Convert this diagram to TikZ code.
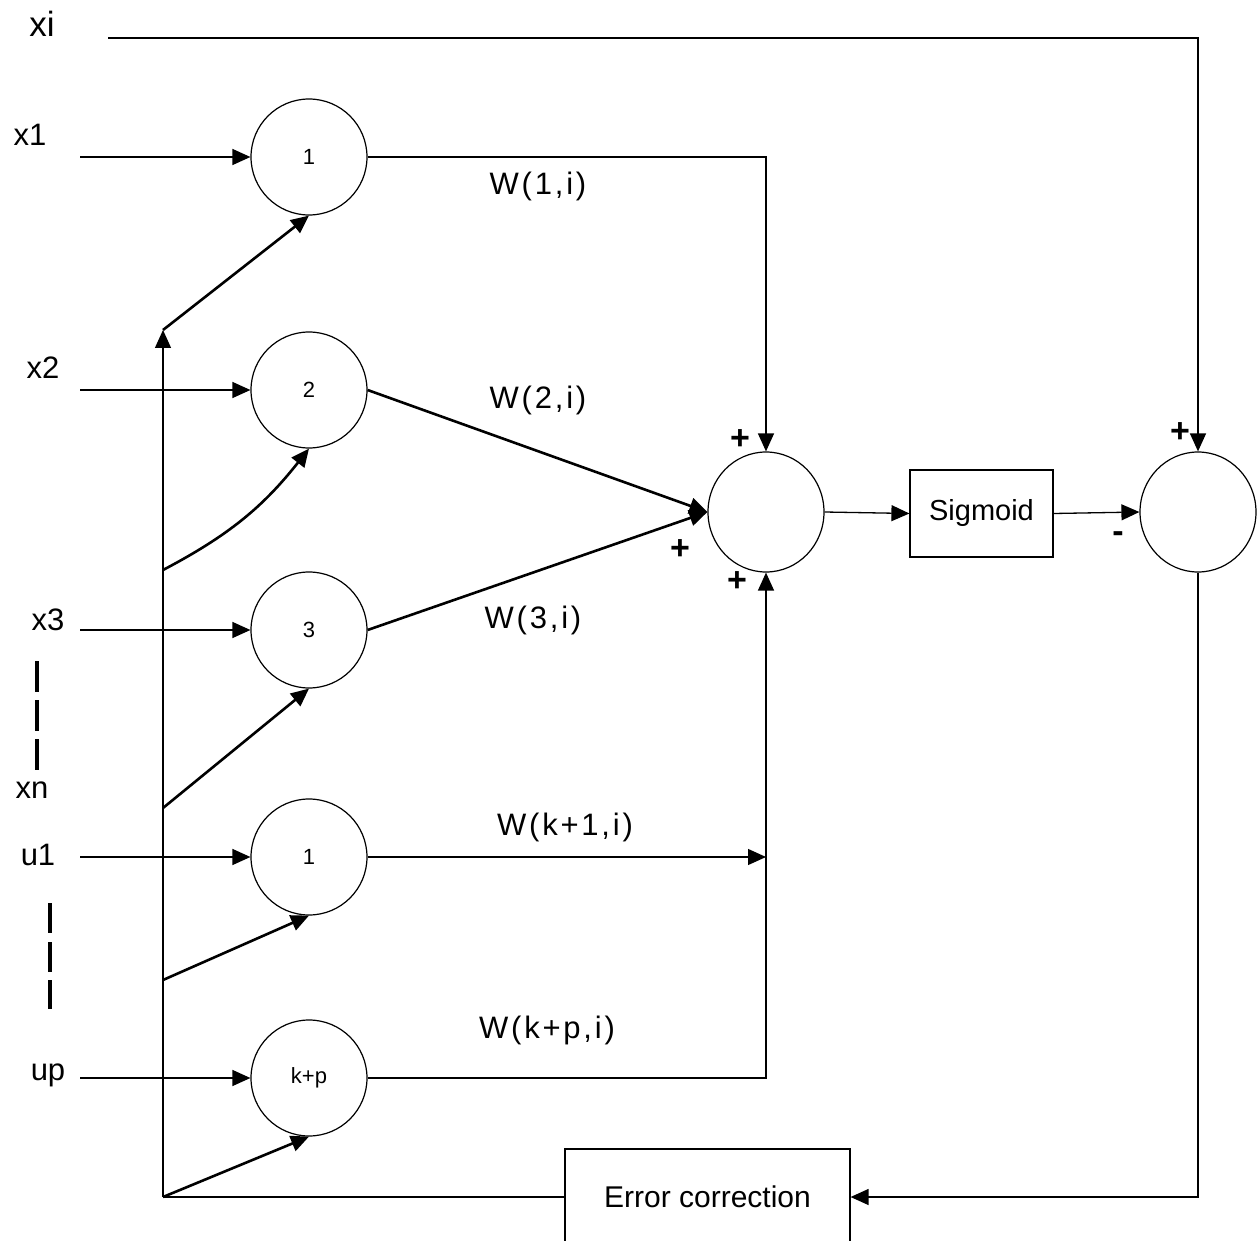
\documentclass[tikz,border=0pt]{standalone}
\usepackage{fontspec}
\setmainfont{Liberation Sans}
\newfontfamily\wfont{Liberation Sans}[LetterSpace=9]
\usetikzlibrary{arrows.meta,shapes.geometric}
\begin{document}
\begin{tikzpicture}[x=1pt,y=-1pt,
 neuron/.style={draw,circle,minimum size=116pt,inner sep=0pt,line width=1.2pt,font=\fontsize{22}{24}\selectfont},
 junction/.style={draw,ellipse,minimum width=116pt,minimum height=120pt,inner sep=0pt,line width=1.2pt},
 blockbox/.style={draw,rectangle,line width=1.2pt,inner sep=0pt},
 inlab/.style={font=\fontsize{31}{34}\selectfont,inner sep=0pt},
 wlab/.style={font=\wfont\fontsize{31}{34}\selectfont,inner sep=0pt},
 sgn/.style={font=\fontsize{34}{36}\selectfont\bfseries,inner sep=0pt},
 wire/.style={line width=1.3pt},
 heavy/.style={line width=2.6pt},
 arr/.style={-{Triangle[length=18pt,width=16pt]}},
 dashbar/.style={line width=4pt},
]
\useasboundingbox (0,0) rectangle (1259,1241);
\clip (0,0) rectangle (1259,1241);

% neurons
\node[neuron] (n1) at (309,157) {1};
\node[neuron] (n2) at (309,390) {2};
\node[neuron] (n3) at (309,630) {3};
\node[neuron] (nu) at (309,857) {1};
\node[neuron] (nk) at (309,1078) {k+p};

% junctions and blocks
\node[junction] (sum) at (766,512) {};
\node[junction] (rc) at (1198,512) {};
\node[blockbox,minimum width=143pt,minimum height=87pt,font=\fontsize{29}{31}\selectfont] (sig) at (981.5,513.5) {Sigmoid};
\node[blockbox,minimum width=285pt,minimum height=96pt,font=\fontsize{30}{32}\selectfont] (err) at (707.5,1197) {Error correction};

% input labels
\node[inlab,font=\fontsize{35}{38}\selectfont] (lxi) at (42,24) {xi};
\node[inlab] (lx1) at (30,135) {x1};
\node[inlab] (lx2) at (43,368) {x2};
\node[inlab] (lx3) at (48,620) {x3};
\node[inlab] (lxn) at (32,790) {xn};
\node[inlab] (lu1) at (38,855) {u1};
\node[inlab] (lup) at (48,1075) {up};

% dashes
\draw[dashbar] (37,661) -- (37,692) (37,700) -- (37,731) (37,739) -- (37,770);
\draw[dashbar] (50,903) -- (50,933) (50,942) -- (50,972) (50,980) -- (50,1009);

% input lines
\coordinate (sxi) at (108,38);
\coordinate (sx1) at (80,157);
\coordinate (sx2) at (80,390);
\coordinate (sx3) at (80,630);
\coordinate (su1) at (80,857);
\coordinate (sup) at (80,1078);
\draw[wire,arr] (sxi) -| (rc.north);
\draw[wire,arr] (sx1) -- (n1.west);
\draw[wire,arr] (sx2) -- (n2.west);
\draw[wire,arr] (sx3) -- (n3.west);
\draw[wire,arr] (su1) -- (nu.west);
\draw[wire,arr] (sup) -- (nk.west);

% bus
\coordinate (b0) at (163,1197);
\coordinate (b1) at (163,330);
\coordinate (b2) at (163,570);
\coordinate (b3) at (163,808);
\coordinate (b4) at (163,980);
\draw[wire,arr] (b0) -- (b1);
\draw[heavy,arr] (b1) -- (n1.south);
\draw[heavy,arr] (b2) to[bend right=12] (n2.south);
\draw[heavy,arr] (b3) -- (n3.south);
\draw[heavy,arr] (b4) -- (nu.south);
\draw[heavy,arr] (b0) -- (nk.south);
\draw[wire] (err.west) -- (b0);
\draw[wire,arr] (rc.south) |- (err.east);

% outputs
\draw[wire,arr] (n1.east) -| (sum.north);
\draw[heavy,arr] (n2.east) -- (sum.west);
\draw[heavy,arr] (n3.east) -- (sum.west);
\coordinate (ju) at (sum.south |- nu.east);
\draw[wire,arr] (nu.east) -- (ju);
\draw[wire,arr] (nk.east) -| (sum.south);
\draw[wire,arr] (sum.east) -- (sig.west);
\draw[wire,arr] (sig.east) -- (rc.west);

% weight labels
\node[wlab] (w1) at (538,186) {W(1,i)};
\node[wlab] (w2) at (538,400) {W(2,i)};
\node[wlab] (w3) at (533,620) {W(3,i)};
\node[wlab] (wk1) at (565,827) {W(k+1,i)};
\node[wlab] (wkp) at (547,1030) {W(k+p,i)};

% signs
\node[sgn] (p1) at (740,440) {+};
\node[sgn] (p2) at (680,550) {+};
\node[sgn] (p3) at (737,582) {+};
\node[sgn] (p4) at (1180,433) {+};
\node[sgn] (m1) at (1118,537) {-};
\end{tikzpicture}
\end{document}
